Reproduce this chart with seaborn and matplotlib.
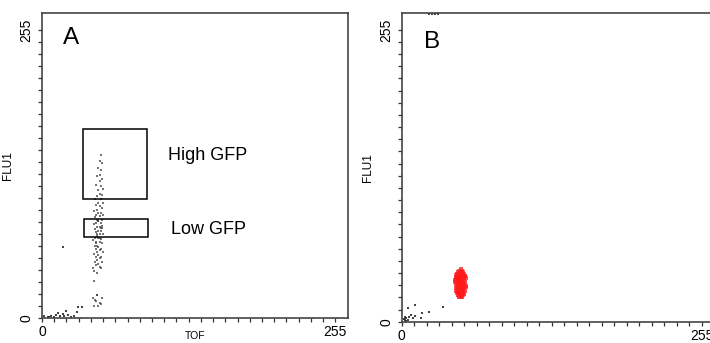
import numpy as np
import pandas as pd
import matplotlib
matplotlib.use("Agg")
import matplotlib.pyplot as plt
import matplotlib.patches as patches
import seaborn as sns

# ---- data (TOF vs FLU1, 0-255 channels) ----

# panel A: the main worm column
col_a_x = [51, 50, 52, 49, 51, 50, 48, 52, 50, 47,
           51, 53, 49, 50, 52, 48, 46, 51, 49, 53,
           47, 50, 52, 48, 45, 51, 49, 47, 53, 50,
           46, 48, 52, 49, 51, 47, 45, 50, 48, 52,
           46, 49, 51, 47, 50, 53, 48, 46, 49, 51,
           44, 47, 50, 52, 48, 46, 49, 51, 47, 50,
           48, 53, 45, 49, 51, 47, 50, 48, 52, 46,
           49, 47, 50, 51, 45, 44, 48, 45, 48, 44,
           46, 50, 49, 51, 47, 48, 52, 45,
           49, 51, 48, 50, 47, 52]
col_a_y = [144, 139, 137, 133, 131, 127, 126, 123, 121, 118,
           117, 114, 113, 110, 109, 108, 105, 105, 102, 102,
           100, 99, 97, 96, 95, 93, 93, 91, 91, 90,
           89, 87, 87, 86, 84, 84, 83, 81, 81, 80,
           79, 77, 77, 76, 74, 74, 73, 71, 71, 70,
           69, 67, 67, 66, 64, 64, 63, 61, 61, 60,
           58, 58, 57, 56, 54, 54, 53, 51, 50, 50,
           48, 47, 45, 44, 42, 44, 40, 33, 20, 18,
           16, 13, 11, 12, 15, 20, 18, 11,
           85.5, 79.5, 74.5, 70.5, 66.5, 81.5]

# panel A: debris near the origin plus one stray event
debris_a_x = [2, 5, 8, 12, 14, 16, 18, 21, 25, 28, 30, 31, 35, 10, 19, 6, 23, 18.6]
debris_a_y = [1.5, 1, 2, 3, 4.5, 2, 3.5, 6.5, 1, 2, 5.5, 10, 10, 1, 1.5, 0.5, 3, 63]

# panel A gates
gate_names = ["High GFP", "Low GFP"]
gate_x0 = [35.4, 36.8]
gate_x1 = [91.1, 92.5]
gate_y0 = [105.6, 71.5]
gate_y1 = [167.0, 87.4]

# panel B: sorted (red) population
sort_b_x = [50, 49, 51, 48, 52, 47, 53, 46, 50, 54,
            49, 51, 47, 52, 48, 55, 46, 50, 53, 49,
            51, 45, 48, 52, 50, 47, 54, 49, 51, 46,
            53, 48, 50, 52, 47, 49, 55, 51, 46, 48,
            50, 53, 49, 47, 52, 51, 48, 50, 54, 46,
            49, 51, 52, 48, 50, 47, 53, 49, 51, 50,
            48, 52, 49, 51, 50, 49,
            48.5, 51.5, 53.5, 46.5, 49.5, 52.5, 47.5, 50.5, 54.5, 45.5]
sort_b_y = [46, 44, 44, 43, 43, 42, 42, 41, 41, 40,
            40, 39.5, 39, 39, 38.5, 38, 38, 37.5, 37, 37,
            36.5, 36, 36, 35.5, 35, 35, 34.5, 34, 34, 33.5,
            33, 33, 32.5, 32, 32, 31.5, 31, 31, 30.5, 30,
            30, 29.5, 29, 29, 28.5, 28, 28, 27.5, 27, 27,
            26.5, 26, 25.5, 25.5, 25, 25, 24.5, 24, 24, 23.5,
            23, 23, 22.5, 22, 21.5, 22,
            41.5, 42.5, 39.5, 37, 36.5, 34, 33.5, 31.5, 30.5, 34.5]

# panel B: debris near origin and a few clipped events on the top edge
debris_b_x = [11.6, 35.1, 23, 17.3, 5.4, 8.2, 5.9, 3.9, 2.6, 9.6, 16.7, 11, 3.1, 5.4, 2, 4,
              23, 25.5, 28, 31]
debris_b_y = [14.6, 12.6, 8.2, 7.3, 11.7, 5.9, 4.4, 3, 4.4, 3, 3, 5, 1.5, 1.5, 2.5, 0.8,
              269, 269, 269, 269]

panel_labels = ["A", "B"]

df_col_a = pd.DataFrame({"TOF": col_a_x, "FLU1": col_a_y})
df_deb_a = pd.DataFrame({"TOF": debris_a_x, "FLU1": debris_a_y})
df_sort_b = pd.DataFrame({"TOF": sort_b_x, "FLU1": sort_b_y})
df_deb_b = pd.DataFrame({"TOF": debris_b_x, "FLU1": debris_b_y})

sns.set_style("white")
plt.rcParams["font.family"] = ["Liberation Sans", "DejaVu Sans"]
plt.rcParams["text.color"] = "black"
plt.rcParams["axes.labelcolor"] = "black"
plt.rcParams["xtick.color"] = "black"
plt.rcParams["ytick.color"] = "black"

fig = plt.figure(figsize=(7.1, 3.43), dpi=100)
ax_a = fig.add_axes([0.0592, 0.0729, 0.431, 0.889])
ax_b = fig.add_axes([0.5658, 0.0621, 0.4407, 0.9009])

dot = dict(marker="s", s=3, linewidth=0, legend=False)
sns.scatterplot(data=df_col_a, x="TOF", y="FLU1", color="#3a3a3a", alpha=0.7, ax=ax_a, **dot)
sns.scatterplot(data=df_deb_a, x="TOF", y="FLU1", color="#222222", alpha=0.85, ax=ax_a, **dot)
sns.scatterplot(data=df_sort_b, x="TOF", y="FLU1", color="#ff1a1a", alpha=0.75, ax=ax_b,
                marker="s", s=5, linewidth=0, legend=False)
sns.scatterplot(data=df_deb_b, x="TOF", y="FLU1", color="#222222", alpha=0.85, ax=ax_b,
                clip_on=False, **dot)

# gates
for name, x0, x1, y0, y1 in zip(gate_names, gate_x0, gate_x1, gate_y0, gate_y1):
    ax_a.add_patch(patches.Rectangle((x0, y0), x1 - x0, y1 - y0, fill=False,
                                     edgecolor="black", linewidth=1.1))
ax_a.text(109.7, 143.5, gate_names[0], fontsize=13, va="center", ha="left")
ax_a.text(112, 78, gate_names[1], fontsize=13, va="center", ha="left")

for ax, lab, (lx, ly) in zip([ax_a, ax_b], panel_labels, [(18.5, 248), (19, 244)]):
    ax.set_xlim(0, 266)
    ax.set_ylim(0, 270)
    ax.set_xticks([0, 255])
    ax.set_xticklabels(["0", "255"], fontsize=10)
    ax.set_yticks([0, 255])
    ax.set_yticklabels(["0", "255"], fontsize=10, rotation=90, va="center")
    ax.set_xticks(np.linspace(0, 255, 25), minor=True)
    ax.set_yticks(np.linspace(0, 255, 25), minor=True)
    ax.tick_params(which="both", direction="out", length=3, width=0.9,
                   color="#333333", bottom=True, left=True, top=False, right=False)
    ax.tick_params(axis="x", which="major", pad=2)
    ax.tick_params(axis="y", which="major", pad=3)
    ax.set_ylabel("FLU1", fontsize=8.5, labelpad=4)
    for sp in ax.spines.values():
        sp.set_visible(True)
        sp.set_color("#444444")
        sp.set_linewidth(1.2)
    ax.text(lx, ly, lab, fontsize=17.5, va="center", ha="left")

# only panel A's axis title fits inside the canvas
ax_a.set_xlabel("TOF", fontsize=7.5, labelpad=-6)
ax_b.set_xlabel("")

fig.savefig("out.png", dpi=100)
